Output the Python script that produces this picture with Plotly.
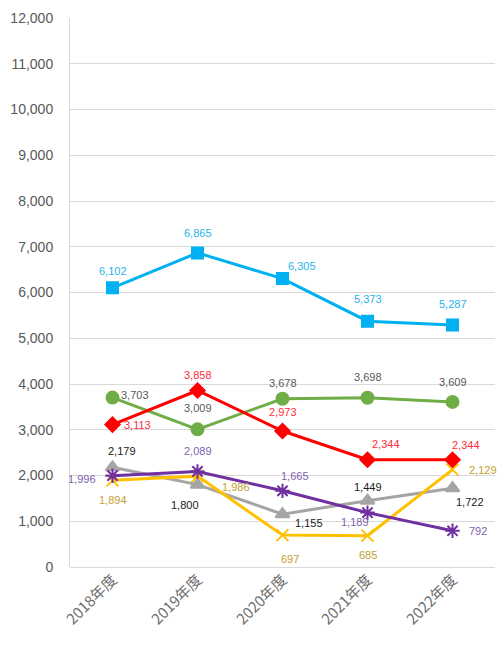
import plotly.graph_objects as go

# 年度別の推移（値は図から読み取り）
years = ['2018年度', '2019年度', '2020年度', '2021年度', '2022年度']

blue_vals = [6102, 6865, 6305, 5373, 5287]
green_vals = [3703, 3009, 3678, 3698, 3609]
red_vals = [3113, 3858, 2973, 2344, 2344]
gray_vals = [2179, 1800, 1155, 1449, 1722]
purple_vals = [1996, 2089, 1665, 1189, 792]
yellow_vals = [1894, 1986, 697, 685, 2129]

y_ticks = list(range(0, 12001, 1000))

# series styling: line colour, label colour, marker symbol, label offsets (px)
series = [
    dict(vals=green_vals, color='#70AD47', label='#595959', symbol='circle', size=12,
         shift=[(22, 3), (0, 21), (0, 16), (0, 21), (0, 20)]),
    dict(vals=gray_vals, color='#A5A5A5', label='#1A1A1A', symbol='triangle-up', size=12,
         shift=[(9, 16), (-13, -20), (26, -9), (0, 14), (17, -14)]),
    dict(vals=yellow_vals, color='#FFC000', label='#BF9F30', symbol='x-thin-open', size=12,
         shift=[(0, -20), (38, -11), (7, -24), (0, -19), (30, 0)]),
    dict(vals=purple_vals, color='#7030A0', label='#7F5FAF', symbol='asterisk-open', size=12,
         shift=[(-31, -3), (0, 20), (12, 15), (-13, -9), (25, 0)]),
    dict(vals=red_vals, color='#FF0000', label='#FF2D3C', symbol='diamond', size=11,
         shift=[(25, 0), (0, 16), (0, 19), (18, 16), (13, 15)]),
    dict(vals=blue_vals, color='#00B0F0', label='#1FB4E8', symbol='square', size=11,
         shift=[(0, 17), (0, 20), (19, 13), (0, 22), (0, 21)]),
]

fig = go.Figure()
annotations = []
for s in series:
    fig.add_trace(go.Scatter(
        x=years, y=s['vals'], mode='lines+markers',
        line=dict(color=s['color'], width=3),
        marker=dict(symbol=s['symbol'], size=s['size'], color=s['color'],
                    line=dict(color=s['color'], width=2)),
        showlegend=False, hoverinfo='skip', cliponaxis=False,
    ))
    for yr, v, (dx, dy) in zip(years, s['vals'], s['shift']):
        annotations.append(dict(
            x=yr, y=v, text=f'{v:,}', showarrow=False,
            xshift=dx, yshift=dy,
            font=dict(size=11, color=s['label'], family='Liberation Sans, Arial, sans-serif'),
        ))

fig.update_layout(
    width=499, height=649,
    margin=dict(l=70, r=4, t=18, b=82),
    paper_bgcolor='white', plot_bgcolor='white',
    annotations=annotations,
    xaxis=dict(
        tickangle=-45, automargin=False,
        tickfont=dict(size=15, color='#6E6E6E', family='Noto Sans CJK JP'),
        showgrid=False, showline=False, zeroline=False,
        range=[-0.5, 4.5],
    ),
    yaxis=dict(
        range=[0, 12000], tickvals=y_ticks, automargin=False,
        ticktext=[f'{t:,}' for t in y_ticks],
        tickfont=dict(size=14, color='#595959', family='Liberation Sans, Arial, sans-serif'),
        ticklabelstandoff=13,
        gridcolor='#D9D9D9', gridwidth=1,
        showline=True, linecolor='#D9D9D9', linewidth=1,
        zeroline=True, zerolinecolor='#D9D9D9', zerolinewidth=1,
    ),
)

# the page body has a default 8px margin; drop it so the figure sits at (0, 0)
fig.write_html('out.html', config={'displayModeBar': False},
               post_script="document.body.style.margin = '0px';")
